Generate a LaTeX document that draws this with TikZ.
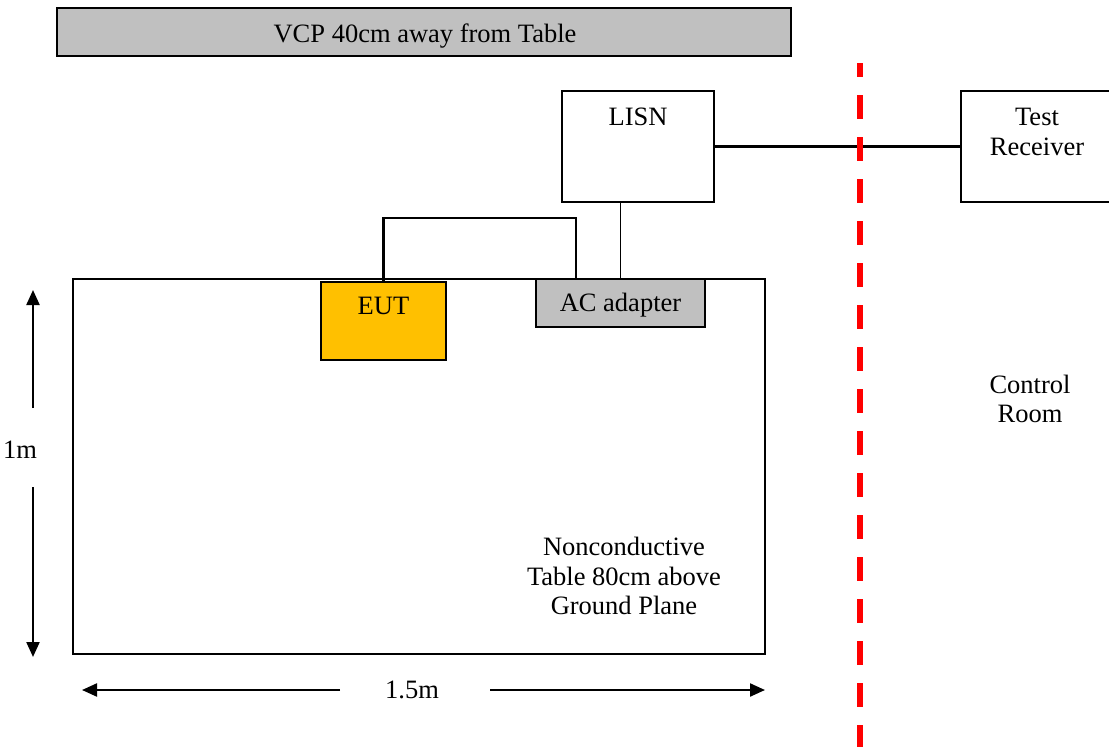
\documentclass[tikz,border=0pt]{standalone}
\usepackage{fontspec}
\setmainfont{Liberation Serif}
\usepackage{tikz}
\usetikzlibrary{arrows.meta,positioning}
\definecolor{vcpgray}{RGB}{192,192,192}
\definecolor{eutorange}{RGB}{255,192,0}
\definecolor{wallred}{RGB}{255,0,0}

\begin{document}
\begin{tikzpicture}[x=1pt, y=-1pt, line width=2.2pt,
    every node/.style={font=\fontsize{26.5}{29.5}\selectfont},
    box/.style={draw, line width=2.2pt, inner sep=0pt},
    dimarrow/.style={-{Triangle[length=15pt,width=13pt]}, line width=2.2pt}]
  \useasboundingbox (0,0) rectangle (1109,747);

  % plane and table
  \node[box, fill=vcpgray, line width=2.6pt, minimum width=734pt, minimum height=48pt] (vcp) at (424,32) {};
  \node at (425,36) {VCP 40cm away from Table};
  \node[box, line width=1.8pt, minimum width=692pt, minimum height=375pt] (table) at (419,466.5) {};
  \node[align=center] (tabletxt) at (624,576) {Nonconductive\\Table 80cm above\\Ground Plane};

  % equipment
  \node[box, minimum width=152pt, minimum height=111pt,
        label={[anchor=north, yshift=-14pt]north:LISN}] (lisn) at (638,146.5) {};
  \node[box, minimum width=152pt, minimum height=111pt] (rx) at (1037,146.5) {};
  \node[align=center, anchor=north] (rxtxt) at (1037,104) {Test\\Receiver};
  \node[box, fill=eutorange, minimum width=125pt, minimum height=78pt,
        label={[anchor=north, yshift=-12pt]north:EUT}] (eut) at (383.5,321) {};
  \node[box, fill=vcpgray, minimum width=169pt, minimum height=48pt] (adapter) at (620.5,303) {};
  \node at (620.5,305) {AC adapter};

  % cables
  \draw (eut.north) -- ++(0,-63) -| ([xshift=41pt]adapter.north west);
  \draw[line width=1.8pt] (adapter.north) -- (adapter.north |- lisn.south);
  \draw (lisn.east) -- (rx.west);

  % shielded wall
  \coordinate (walltop) at (860,63);
  \coordinate (wallbot) at (860,747);
  \draw[wallred, line width=6pt, dash pattern=on 24pt off 18pt, dash phase=10pt] (walltop) -- (wallbot);
  \node[align=center] (ctrl) at (1030,399) {Control\\Room};

  % dimensions
  \node (hgt) at (20,450) {1m};
  \coordinate (hgtup) at (33,290);
  \coordinate (hgtdn) at (33,657);
  \draw[dimarrow] (33,408) -- (hgtup);
  \draw[dimarrow] (33,487) -- (hgtdn);
  \node (wid) at (412,690) {1.5m};
  \coordinate (widl) at (82,690);
  \coordinate (widr) at (765,690);
  \draw[dimarrow] (340,690) -- (widl);
  \draw[dimarrow] (490,690) -- (widr);
\end{tikzpicture}
\end{document}
